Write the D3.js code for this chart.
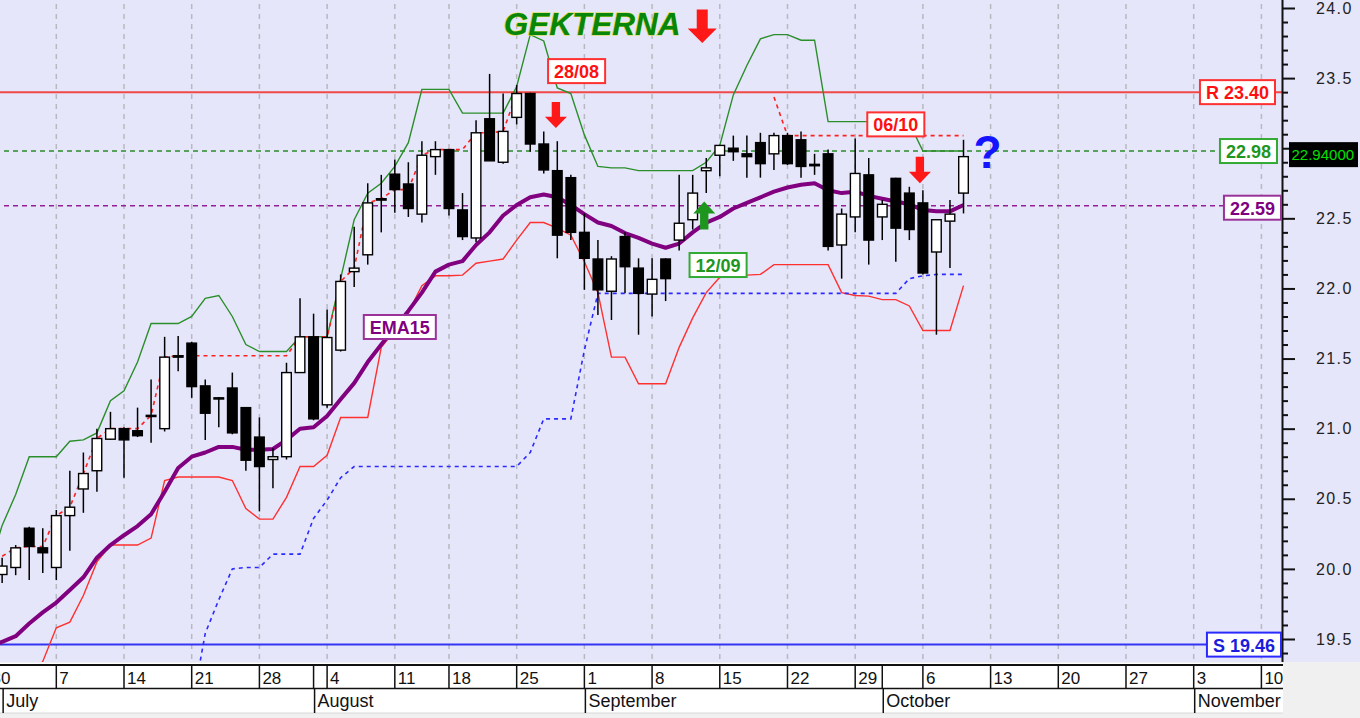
<!DOCTYPE html>
<html><head><meta charset="utf-8">
<script src="https://cdn.jsdelivr.net/npm/d3@7/dist/d3.min.js"></script>
<style>
html,body{margin:0;padding:0;background:#f0f0f0;overflow:hidden;}
svg{display:block;font-family:Arial,"Liberation Sans",sans-serif;}
</style></head><body>
<svg id="chart" width="1360" height="718"></svg>
<script>
// ---------------- DATA ----------------
const dates = [
"2025-06-30","2025-07-01","2025-07-02","2025-07-03","2025-07-04",
"2025-07-07","2025-07-08","2025-07-09","2025-07-10","2025-07-11",
"2025-07-14","2025-07-15","2025-07-16","2025-07-17","2025-07-18",
"2025-07-21","2025-07-22","2025-07-23","2025-07-24","2025-07-25",
"2025-07-28","2025-07-29","2025-07-30","2025-07-31","2025-08-01",
"2025-08-04","2025-08-05","2025-08-06","2025-08-07","2025-08-08",
"2025-08-11","2025-08-12","2025-08-13","2025-08-14",
"2025-08-18","2025-08-19","2025-08-20","2025-08-21","2025-08-22",
"2025-08-25","2025-08-26","2025-08-27","2025-08-28","2025-08-29",
"2025-09-01","2025-09-02","2025-09-03","2025-09-04","2025-09-05",
"2025-09-08","2025-09-09","2025-09-10","2025-09-11","2025-09-12",
"2025-09-15","2025-09-16","2025-09-17","2025-09-18","2025-09-19",
"2025-09-22","2025-09-23","2025-09-24","2025-09-25","2025-09-26",
"2025-09-29","2025-09-30","2025-10-01","2025-10-02","2025-10-03",
"2025-10-06","2025-10-07","2025-10-08","2025-10-09"];

const openP = [
19.95,19.96,20.01,20.29,20.15,
20.01,20.38,20.57,20.70,20.925,
21.00,20.985,21.09,21.00,21.51,
21.61,21.305,21.22,21.29,21.15,
20.94,20.78,20.80,21.40,21.655,
21.17,21.56,22.12,22.24,22.63,
22.815,22.745,22.53,22.94,
22.99,22.56,22.36,23.21,22.90,
23.22,23.39,23.03,22.84,22.79,
22.40,22.21,21.98,22.37,22.145,
21.96,22.21,22.345,22.49,22.84,
22.95,23.00,22.96,23.04,22.96,
23.09,23.06,22.885,22.96,22.31,
22.51,22.81,22.51,22.785,22.68,
22.61,22.26,22.48,22.68];

const highP = [
20.05,20.08,20.17,20.30,20.29,
20.42,20.70,20.83,21.00,21.12,
21.01,21.15,21.35,21.655,21.66,
21.62,21.35,21.225,21.40,21.15,
21.08,20.86,21.47,21.93,21.82,
21.85,22.10,22.44,22.75,22.81,
22.92,22.90,23.05,23.05,
22.995,22.68,23.20,23.53,23.39,
23.45,23.395,23.12,23.05,22.81,
22.535,22.345,22.23,22.40,22.215,
22.215,22.215,22.81,22.81,22.93,
23.02,23.09,23.09,23.11,23.11,
23.11,23.12,22.96,22.99,22.57,
23.07,22.93,22.63,22.79,22.725,
22.70,22.49,22.63,23.06];

const lowP = [
19.85,19.90,19.955,19.92,19.97,
19.92,20.13,20.40,20.55,20.92,
20.65,20.94,20.90,20.98,21.41,
21.22,20.92,21.01,20.96,20.70,
20.41,20.575,20.78,21.40,21.06,
21.15,21.55,22.01,22.17,22.40,
22.54,22.51,22.47,22.81,
22.52,22.345,22.33,22.91,22.89,
23.17,22.975,22.82,22.215,22.345,
21.99,21.81,21.775,21.965,21.67,
21.80,21.91,22.27,22.42,22.68,
22.80,22.91,22.79,22.79,22.845,
22.88,22.79,22.81,22.27,22.07,
22.40,22.17,22.345,22.19,22.345,
22.10,21.67,22.145,22.535];

const closeP = [
19.98,20.02,20.15,20.16,20.115,
20.38,20.44,20.68,20.93,21.00,
20.92,20.95,21.095,21.51,21.52,
21.30,21.11,21.215,20.97,20.775,
20.73,20.80,21.40,21.655,21.07,
21.65,22.05,22.145,22.61,22.64,
22.705,22.57,22.95,22.99,
22.57,22.37,23.11,22.91,23.12,
23.39,23.03,22.845,22.38,22.40,
22.215,21.99,22.21,22.155,21.965,
22.065,22.07,22.465,22.68,22.86,
23.02,22.975,22.94,22.89,23.09,
22.89,22.87,22.875,22.30,22.53,
22.82,22.345,22.60,22.43,22.42,
22.11,22.49,22.53,22.94];

const upperBand = [
19.99,20.31,20.53,20.80,20.80,
20.80,20.91,20.92,20.97,21.20,
21.27,21.475,21.75,21.75,21.75,
21.80,21.93,21.95,21.80,21.60,
21.55,21.55,21.55,21.655,21.655,
21.655,22.07,22.49,22.68,22.75,
22.87,23.04,23.42,23.42,
23.42,23.25,23.25,23.25,23.25,
23.44,23.81,23.765,23.43,23.39,
23.095,22.87,22.86,22.86,22.84,
22.84,22.84,22.84,22.84,22.90,
23.02,23.38,23.59,23.78,23.81,
23.81,23.77,23.77,23.19,23.19,
23.19,23.19,23.19,23.19,23.18,
22.98,22.98,22.98,22.98];

const lowerBand = [
18.80,18.95,19.08,19.20,19.34,
19.58,19.62,19.81,20.05,20.17,
20.17,20.17,20.22,20.63,20.655,
20.655,20.655,20.655,20.63,20.43,
20.355,20.355,20.51,20.73,20.73,
20.81,21.08,21.08,21.08,21.58,
21.70,21.83,22.02,22.09,
22.09,22.095,22.18,22.195,22.21,
22.345,22.47,22.47,22.43,22.38,
22.19,21.97,21.51,21.51,21.32,
21.32,21.32,21.58,21.79,21.97,
22.08,22.08,22.095,22.10,22.17,
22.17,22.17,22.17,22.17,21.97,
21.95,21.945,21.92,21.92,21.875,
21.70,21.70,21.70,22.02];

const ema15 = [
19.435,19.48,19.52,19.61,19.69,
19.76,19.85,19.94,20.08,20.17,
20.24,20.305,20.39,20.55,20.72,
20.80,20.83,20.87,20.87,20.85,
20.85,20.855,20.92,21.00,21.01,
21.09,21.21,21.325,21.475,21.60,
21.72,21.84,21.97,22.12,
22.17,22.195,22.31,22.40,22.52,
22.595,22.65,22.67,22.65,22.595,
22.53,22.47,22.445,22.395,22.36,
22.32,22.29,22.32,22.40,22.47,
22.51,22.57,22.61,22.65,22.69,
22.72,22.74,22.75,22.70,22.68,
22.69,22.66,22.64,22.62,22.60,
22.56,22.55,22.55,22.595];

const trailHigh = [
20.03,20.09,20.15,20.16,20.16,
20.38,20.44,20.68,20.93,21.00,
21.00,21.00,21.095,21.51,21.52,
21.52,21.52,21.52,21.52,21.52,
21.52,21.52,21.52,21.655,21.655,
21.655,22.05,22.145,22.61,22.64,
22.705,22.705,22.95,22.99,
22.99,22.99,23.11,23.11,23.12,
23.39,null,null,null,null,
null,null,null,null,null,
null,null,null,null,null,
null,null,null,null,23.365,
23.09,23.09,23.09,23.09,23.09,
23.09,23.09,23.09,23.09,23.09,
23.09,23.09,23.09,23.09];

const trailLow = [
null,null,null,null,null,
null,null,null,null,null,
null,null,null,null,null,
19.01,19.54,19.78,20.00,20.01,
20.01,20.105,20.105,20.105,20.36,
20.49,20.65,20.73,20.73,20.73,
20.73,20.73,20.73,20.73,
20.73,20.73,20.73,20.73,20.73,
20.73,20.83,21.07,21.07,21.07,
21.56,21.965,21.965,21.965,21.965,
21.965,21.965,21.965,21.965,21.965,
21.965,21.965,21.965,21.965,21.965,
21.965,21.965,21.965,21.965,21.965,
21.965,21.965,21.965,21.965,22.07,
22.09,22.10,22.10,22.10];

const levelValues = [23.40, 22.98, 22.59, 19.46];
const levelLabels = ["R 23.40", "22.98", "22.59", "S 19.46"];
const lastPrice = 22.94;
const yMajorTicks = [19.5,20.0,20.5,21.0,21.5,22.0,22.5,23.0,23.5,24.0];
const holidays = ["2025-08-15"];
const monthNames = ["January","February","March","April","May","June","July","August","September","October","November","December"];

// ---------------- LAYOUT ----------------
const plotW = 1282, plotH = 662;
const svg = d3.select("#chart");
svg.append("rect").attr("width",1360).attr("height",718).attr("fill","#f0f0f0");
svg.append("rect").attr("width",1360).attr("height",plotH).attr("fill","#e6e6fa");
const defs = svg.append("defs");
defs.append("clipPath").attr("id","plotClip").append("rect").attr("width",plotW).attr("height",plotH);
defs.append("clipPath").attr("id","axisClip").append("rect").attr("x",0).attr("y",plotH).attr("width",1283).attr("height",56);

const parse = d3.utcParse("%Y-%m-%d"), fmt = d3.utcFormat("%Y-%m-%d");
const axisDays = d3.utcDay.range(parse("2025-06-30"), parse("2025-11-15"))
  .filter(d => d.getUTCDay() % 6 !== 0 && !holidays.includes(fmt(d)));
const idx = new Map(axisDays.map((d,i)=>[fmt(d),i]));
const x = d3.scaleLinear().domain([idx.get("2025-06-30"), idx.get("2025-11-10")]).range([-11.4, 1261.4]);
const X = s => x(idx.get(s));
const y = d3.scaleLinear().domain([19.5, 24.0]).range([639, 8]);

const data = dates.map((d,i)=>({d, o:openP[i], h:highP[i], l:lowP[i], c:closeP[i],
  up:upperBand[i], lo:lowerBand[i], ema:ema15[i], th:trailHigh[i], tl:trailLow[i]}));

const plot = svg.append("g").attr("clip-path","url(#plotClip)");

// vertical gridlines at Mondays
const mondays = axisDays.filter(d => d.getUTCDay() === 1);
plot.append("g").selectAll("line").data(mondays).join("line")
  .attr("x1", d=>x(idx.get(fmt(d)))).attr("x2", d=>x(idx.get(fmt(d))))
  .attr("y1", 4).attr("y2", plotH)
  .attr("stroke","#b8b8c0").attr("stroke-width",1.5).attr("stroke-dasharray","5,5");

// horizontal level lines
const levelStyle = [
  {line:"#f04848", w:2, dash:null, text:"#ff1010", border:"#ff3030", right:1275},
  {line:"#2a8c2a", w:1.5, dash:"5,4", text:"#1f961f", border:"#33aa33", right:1277},
  {line:"#961e96", w:1.5, dash:"5,4", text:"#800080", border:"#993399", right:1281},
  {line:"#3434f4", w:2, dash:null, text:"#1c1cdd", border:"#2a2aff", right:1281}
];
levelValues.forEach((v,i)=>{
  const s = levelStyle[i];
  plot.append("line").attr("x1", s.dash?4:0).attr("x2", plotW).attr("y1", y(v)).attr("y2", y(v))
    .attr("stroke", s.line).attr("stroke-width", s.w).attr("stroke-dasharray", s.dash);
});

const lineGen = acc => d3.line().defined(d=>acc(d)!=null).x(d=>X(d.d)).y(d=>y(acc(d)));
plot.append("path").datum(data).attr("d", lineGen(d=>d.up)).attr("fill","none").attr("stroke","#2a8f2a").attr("stroke-width",1.4);
plot.append("path").datum(data).attr("d", lineGen(d=>d.lo)).attr("fill","none").attr("stroke","#ff3030").attr("stroke-width",1.4);
plot.append("path").datum(data).attr("d", lineGen(d=>d.tl)).attr("fill","none").attr("stroke","#2b2bff").attr("stroke-width",1.6).attr("stroke-dasharray","4,4");
plot.append("path").datum(data).attr("d", lineGen(d=>d.th)).attr("fill","none").attr("stroke","#ff2020").attr("stroke-width",1.6).attr("stroke-dasharray","4,4");
plot.append("path").datum(data).attr("d", lineGen(d=>d.ema)).attr("fill","none").attr("stroke","#800080").attr("stroke-width",4).attr("stroke-linejoin","round");

// candles
const cg = plot.append("g").selectAll("g").data(data).join("g");
cg.append("line").attr("x1", d=>X(d.d)).attr("x2", d=>X(d.d))
  .attr("y1", d=>y(d.h)).attr("y2", d=>y(d.l)).attr("stroke","#000").attr("stroke-width",1.5);
cg.append("rect")
  .attr("x", d=>X(d.d)-4.8).attr("width", 9.6)
  .attr("y", d=>y(Math.max(d.o,d.c)))
  .attr("height", d=>Math.max(1.2, Math.abs(y(d.o)-y(d.c))))
  .attr("fill", d=> d.c < d.o ? "#000" : "#fff")
  .attr("stroke","#000").attr("stroke-width",1.4);

// ---------------- Y AXIS ----------------
const minorTicks = d3.range(194, 241, 1).map(v=>v/10).filter(v=>!yMajorTicks.some(m=>Math.abs(m-v)<1e-6));
const gMinor = svg.append("g").attr("transform",`translate(${plotW},0)`)
  .call(d3.axisRight(y).tickValues(minorTicks).tickSize(6).tickFormat(""));
// the 23.0 label is hidden behind the last-price tag in the reference
const gMajor = svg.append("g").attr("transform",`translate(${plotW},0)`)
  .call(d3.axisRight(y).tickValues(yMajorTicks).tickSize(13)
    .tickFormat(v => Math.abs(v-23.0)<1e-6 ? "" : d3.format(".1f")(v)));
[gMinor,gMajor].forEach(g=>{ g.select(".domain").remove(); g.selectAll(".tick line").attr("stroke","#111").attr("stroke-width",2); });
gMajor.selectAll(".tick text").attr("x", 34).attr("text-anchor","start")
  .attr("fill","#222").style("font-size","16px").style("letter-spacing","1.4px").style("font-family","Arial, 'Liberation Sans', sans-serif");
svg.append("line").attr("x1", plotW+0.5).attr("x2", plotW+0.5).attr("y1",0).attr("y2",plotH).attr("stroke","#111").attr("stroke-width",2);

// ---------------- X AXIS ----------------
const xa = svg.append("g").attr("clip-path","url(#axisClip)");
xa.append("rect").attr("x",0).attr("y",plotH+1).attr("width",1283).attr("height",50).attr("fill","#fff");
xa.append("line").attr("x1",0).attr("x2",1283).attr("y1",665).attr("y2",665).attr("stroke","#111").attr("stroke-width",2);
xa.append("line").attr("x1",0).attr("x2",1283).attr("y1",688.5).attr("y2",688.5).attr("stroke","#111").attr("stroke-width",1.5);
xa.append("line").attr("x1",0).attr("x2",1283).attr("y1",713).attr("y2",713).attr("stroke","#d8d8d8").attr("stroke-width",1);
const dayG = xa.append("g").selectAll("g").data(mondays).join("g");
dayG.append("line").attr("x1", d=>x(idx.get(fmt(d)))).attr("x2", d=>x(idx.get(fmt(d))))
  .attr("y1",665).attr("y2",688).attr("stroke","#111").attr("stroke-width",1.5);
dayG.append("text").attr("x", d=>x(idx.get(fmt(d)))+3).attr("y",684)
  .text(d=>d.getUTCDate()).attr("fill","#111").style("font-size","17px");
const monthStarts = axisDays.filter((d,i)=> i===0 ? false : d.getUTCMonth() !== axisDays[i-1].getUTCMonth());
const mG = xa.append("g").selectAll("g").data(monthStarts).join("g");
mG.append("line").attr("x1", d=>x(idx.get(fmt(d)))+1).attr("x2", d=>x(idx.get(fmt(d)))+1)
  .attr("y1",689).attr("y2",713).attr("stroke","#111").attr("stroke-width",1.5);
mG.filter(d=>d.getUTCDay()!==1 && x(idx.get(fmt(d)))>20).append("line")
  .attr("x1", d=>x(idx.get(fmt(d)))).attr("x2", d=>x(idx.get(fmt(d))))
  .attr("y1",665).attr("y2",688).attr("stroke","#111").attr("stroke-width",1.5);
mG.append("text").attr("x", d=>x(idx.get(fmt(d)))+4).attr("y",707)
  .text(d=>monthNames[d.getUTCMonth()]).attr("fill","#111").style("font-size","18px");

// ---------------- LABELS ----------------
function tag(g, text, cx, cy, color, border, anchor){
  const t = g.append("text").text(text).attr("font-weight","bold").style("font-size","18px")
    .attr("fill", color).attr("dominant-baseline","central");
  const w = t.node().getComputedTextLength();
  const bw = w + 12, bh = 24;
  const left = anchor==="right" ? cx - bw : cx - bw/2;
  g.insert("rect", "text").attr("x", left).attr("y", cy - bh/2).attr("width", bw).attr("height", bh)
    .attr("fill","#fff").attr("stroke", border).attr("stroke-width",2);
  t.attr("x", left + 6).attr("y", cy + 1);
}
const labG = svg.append("g");
levelValues.forEach((v,i)=>{
  const s = levelStyle[i];
  const g = labG.append("g");
  tag(g, levelLabels[i], s.right, y(v) - (i===2?-2:0), s.text, s.border, "right");
});
// last price tag
const pg = svg.append("g");
pg.append("rect").attr("x",1289).attr("y", y(lastPrice)-14.5).attr("width",69).attr("height",25).attr("fill","#000");
pg.append("text").attr("x",1291.5).attr("y", y(lastPrice)-2).attr("dominant-baseline","central")
  .text(lastPrice.toFixed(5)).attr("fill","#00e000").style("font-size","15px");

// annotations
tag(svg.append("g"), "28/08", X("2025-08-28")+19.3, y(23.55), "#ff1010", "#ff3030");
tag(svg.append("g"), "06/10", X("2025-10-02"), y(23.17), "#ff1010", "#ff3030");
tag(svg.append("g"), "12/09", X("2025-09-15")-1.7, y(22.167), "#1f961f", "#33aa33");
tag(svg.append("g"), "EMA15", X("2025-08-11")+5, y(21.725), "#800080", "#993399");

function arrow(cx, yBase, yTip, w, color){
  const hs = w*0.19, hw = w/2, yh = yBase + (yTip-yBase)*0.57;
  const p = `M${cx-hs},${yBase}L${cx+hs},${yBase}L${cx+hs},${yh}L${cx+hw},${yh}L${cx},${yTip}L${cx-hw},${yh}L${cx-hs},${yh}Z`;
  svg.append("path").attr("d",p).attr("fill",color);
}
arrow(X("2025-09-12")-4, y(23.99), y(23.75), 29, "#ff1818");
arrow(X("2025-08-28")-1.4, y(23.33), y(23.144), 22, "#ff1818");
arrow(X("2025-10-06")-3, y(22.94), y(22.75), 22, "#ff1818");
arrow(X("2025-09-12")-2, y(22.42), y(22.62), 22, "#1e961e");

// title
svg.append("text").attr("x", X("2025-08-22")+0.7).attr("y", y(23.81))
  .text("GEKTERNA").attr("font-weight","bold").attr("font-style","italic").style("font-size","31.5px")
  .attr("fill","#08850b").attr("stroke","#d4dc30").attr("stroke-width",1).attr("paint-order","stroke");

// question mark
svg.append("text").attr("x", X("2025-10-09")+24).attr("y", y(22.86)).attr("text-anchor","middle")
  .text("?").attr("font-weight","bold").style("font-size","46px").attr("fill","#1414ff");
</script>
</body></html>
